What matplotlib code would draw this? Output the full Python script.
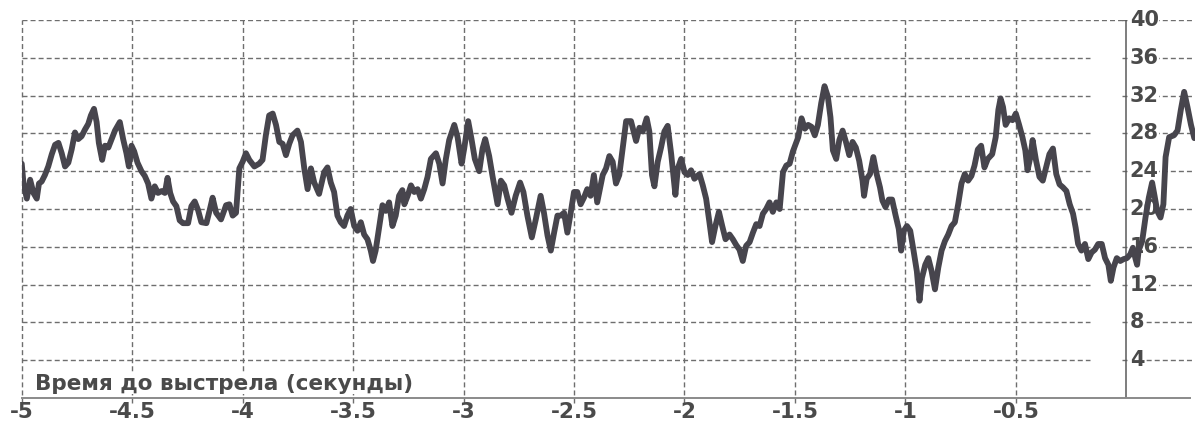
import matplotlib.pyplot as plt

# time before the shot (s) and the recorded signal
time_s = [
    -5.000, -4.992, -4.977, -4.962, -4.947, -4.932, -4.922, -4.910, -4.895, -4.880,
    -4.864, -4.849, -4.834, -4.819, -4.804, -4.789, -4.774, -4.759, -4.744, -4.729,
    -4.714, -4.699, -4.687, -4.673, -4.661, -4.651, -4.636, -4.623, -4.608, -4.593,
    -4.578, -4.556, -4.541, -4.526, -4.515, -4.503, -4.491, -4.476, -4.458, -4.443,
    -4.428, -4.413, -4.398, -4.383, -4.367, -4.352, -4.340, -4.328, -4.315, -4.300,
    -4.285, -4.270, -4.247, -4.232, -4.217, -4.202, -4.187, -4.164, -4.149, -4.136,
    -4.120, -4.098, -4.075, -4.060, -4.045, -4.030, -4.015, -4.000, -3.985, -3.970,
    -3.947, -3.925, -3.910, -3.895, -3.880, -3.864, -3.849, -3.834, -3.819, -3.804,
    -3.789, -3.774, -3.752, -3.736, -3.721, -3.706, -3.691, -3.676, -3.654, -3.631,
    -3.616, -3.601, -3.586, -3.571, -3.556, -3.541, -3.526, -3.511, -3.495, -3.480,
    -3.465, -3.450, -3.435, -3.420, -3.410, -3.398, -3.383, -3.367, -3.352, -3.337,
    -3.322, -3.307, -3.292, -3.277, -3.268, -3.253, -3.238, -3.223, -3.208, -3.193,
    -3.178, -3.163, -3.148, -3.125, -3.110, -3.095, -3.080, -3.065, -3.042, -3.027,
    -3.009, -2.997, -2.979, -2.964, -2.949, -2.929, -2.914, -2.902, -2.884, -2.869,
    -2.846, -2.831, -2.816, -2.801, -2.783, -2.764, -2.744, -2.729, -2.711, -2.691,
    -2.673, -2.651, -2.636, -2.620, -2.605, -2.590, -2.575, -2.560, -2.545, -2.530,
    -2.515, -2.500, -2.485, -2.470, -2.455, -2.440, -2.425, -2.410, -2.395, -2.370,
    -2.355, -2.340, -2.325, -2.310, -2.295, -2.279, -2.264, -2.242, -2.219, -2.204,
    -2.189, -2.171, -2.159, -2.147, -2.136, -2.121, -2.106, -2.091, -2.076, -2.060,
    -2.041, -2.030, -2.015, -2.000, -1.985, -1.970, -1.955, -1.932, -1.917, -1.902,
    -1.887, -1.875, -1.860, -1.844, -1.829, -1.814, -1.796, -1.781, -1.766, -1.751,
    -1.736, -1.721, -1.705, -1.690, -1.675, -1.660, -1.645, -1.630, -1.615, -1.600,
    -1.584, -1.569, -1.554, -1.539, -1.524, -1.509, -1.485, -1.470, -1.455, -1.440,
    -1.425, -1.410, -1.396, -1.381, -1.366, -1.351, -1.339, -1.328, -1.313, -1.299,
    -1.284, -1.269, -1.254, -1.239, -1.224, -1.209, -1.194, -1.187, -1.175, -1.160,
    -1.145, -1.130, -1.115, -1.104, -1.090, -1.075, -1.060, -1.045, -1.030, -1.019,
    -1.007, -0.993, -0.978, -0.963, -0.948, -0.936, -0.925, -0.910, -0.896, -0.881,
    -0.866, -0.851, -0.836, -0.821, -0.806, -0.791, -0.776, -0.761, -0.746, -0.731,
    -0.716, -0.701, -0.687, -0.672, -0.657, -0.642, -0.627, -0.607, -0.591, -0.579,
    -0.569, -0.558, -0.546, -0.530, -0.515, -0.500, -0.485, -0.470, -0.457, -0.447,
    -0.434, -0.424, -0.409, -0.393, -0.378, -0.363, -0.348, -0.332, -0.317, -0.302,
    -0.287, -0.271, -0.256, -0.241, -0.229, -0.218, -0.203, -0.187, -0.172, -0.157,
    -0.142, -0.127, -0.111, -0.096, -0.081, -0.070, -0.058, -0.043, -0.027, -0.012,
    0.003, 0.018, 0.030, 0.041, 0.049, 0.056, 0.072, 0.087, 0.102, 0.117,
    0.128, 0.140, 0.155, 0.168, 0.178, 0.194, 0.216, 0.232, 0.247, 0.262,
    0.277, 0.293, 0.308,
]
signal = [
    24.8, 22.7, 21.1, 23.1, 21.7, 21.1, 22.7, 22.9, 23.6, 24.5,
    25.8, 26.8, 27.0, 25.9, 24.5, 24.9, 26.3, 28.1, 27.4, 27.7,
    28.4, 29.0, 29.9, 30.6, 29.2, 27.0, 25.2, 26.7, 26.5, 27.4,
    28.3, 29.2, 27.4, 25.9, 24.5, 26.7, 26.1, 24.9, 24.0, 23.5,
    22.7, 21.1, 22.4, 21.7, 21.9, 21.7, 23.3, 21.7, 20.8, 20.3,
    18.8, 18.5, 18.5, 20.3, 20.8, 19.9, 18.6, 18.5, 19.9, 21.2,
    19.6, 18.9, 20.4, 20.5, 19.3, 19.6, 24.3, 25.0, 25.9, 25.2,
    24.5, 24.8, 25.2, 27.8, 29.9, 30.1, 28.9, 27.1, 26.9, 25.7,
    26.9, 27.8, 28.3, 27.1, 24.3, 22.1, 24.3, 22.8, 21.6, 23.9,
    24.4, 22.8, 21.8, 19.3, 18.6, 18.2, 19.3, 20.0, 18.2, 17.7,
    18.6, 17.3, 16.8, 15.6, 14.5, 15.6, 17.9, 20.4, 19.8, 20.7,
    18.2, 19.3, 21.4, 22.0, 20.5, 21.4, 22.5, 21.8, 22.1, 21.1,
    22.1, 23.4, 25.3, 25.9, 24.8, 22.7, 25.3, 27.3, 28.9, 27.6,
    24.8, 26.4, 29.3, 27.4, 25.3, 24.0, 26.4, 27.4, 25.6, 23.5,
    20.5, 23.0, 22.5, 21.1, 19.6, 21.4, 22.8, 21.8, 19.3, 17.0,
    18.9, 21.4, 19.6, 17.2, 15.6, 17.5, 19.3, 19.3, 19.6, 17.5,
    19.6, 21.8, 21.8, 20.5, 21.2, 22.1, 21.4, 23.6, 20.7, 23.6,
    24.3, 25.6, 25.0, 22.7, 23.6, 26.5, 29.3, 29.3, 27.2, 28.6,
    28.2, 29.6, 28.2, 23.6, 22.4, 25.0, 26.5, 28.2, 28.8, 25.8,
    21.5, 24.3, 25.3, 23.9, 23.6, 24.1, 23.2, 23.7, 22.5, 21.1,
    18.6, 16.5, 18.2, 19.7, 18.2, 16.8, 17.3, 16.8, 16.2, 15.7,
    14.5, 16.1, 16.5, 17.5, 18.4, 18.2, 19.5, 20.0, 20.7, 19.7,
    20.7, 20.0, 23.9, 24.6, 24.8, 26.1, 27.6, 29.6, 28.5, 28.9,
    28.7, 27.8, 28.9, 31.2, 33.0, 31.9, 29.7, 26.2, 25.3, 27.3,
    28.3, 27.1, 25.7, 27.1, 26.5, 25.1, 23.0, 21.4, 23.2, 23.7,
    25.5, 23.7, 22.3, 20.9, 20.2, 21.0, 21.0, 19.4, 17.9, 15.6,
    17.7, 18.2, 17.7, 15.6, 13.4, 10.3, 12.7, 14.1, 14.8, 13.4,
    11.5, 13.8, 15.6, 16.6, 17.3, 18.2, 18.6, 20.5, 22.7, 23.7,
    23.0, 23.5, 24.6, 26.3, 26.7, 24.4, 25.3, 25.8, 27.6, 30.5,
    31.7, 30.8, 28.9, 29.6, 29.4, 30.1, 28.9, 27.6, 26.2, 24.1,
    25.5, 27.3, 25.2, 23.4, 23.0, 24.4, 25.8, 26.4, 23.7, 22.6,
    22.3, 21.9, 20.5, 19.5, 18.0, 16.3, 15.6, 16.3, 14.7, 15.4,
    15.7, 16.3, 16.3, 14.8, 14.1, 12.4, 13.8, 14.8, 14.5, 14.7,
    14.8, 15.2, 15.9, 14.8, 14.1, 15.6, 16.6, 19.1, 21.2, 22.8,
    21.4, 19.8, 19.1, 20.5, 25.5, 27.6, 27.8, 28.3, 30.5, 32.4,
    30.8, 28.9, 27.5,
]

x_ticks = [-5, -4.5, -4, -3.5, -3, -2.5, -2, -1.5, -1, -0.5]
x_labels = ["-5", "-4.5", "-4", "-3.5", "-3", "-2.5", "-2", "-1.5", "-1", "-0.5"]
y_ticks = [4, 8, 12, 16, 20, 24, 28, 32, 36, 40]
x_title = "Время до выстрела (секунды)"

XMIN, XMAX = -5, 0.31
GRID = "#6e6e6e"
TEXT = "#4a4a4a"
LINE = "#47454d"
DASH = (0, (3.6, 2.2))

fig = plt.figure(figsize=(12.01, 4.24), dpi=100)
ax = fig.add_axes([0.0181, 0.0613, 0.9767, 0.8915])
ax.set_xlim(XMIN, XMAX)
ax.set_ylim(0, 40)
for s in ax.spines.values():
    s.set_visible(False)

# horizontal grid: broken just before the value axis, resumed behind the labels
for y in y_ticks:
    stop = 0 if y == 40 else -0.163
    ax.plot([XMIN, stop], [y, y], color=GRID, lw=1, linestyle=DASH, zorder=1)
    ax.plot([-0.02, XMAX], [y, y], color=GRID, lw=1, linestyle=DASH, zorder=1)
    ax.text(0.016, y, str(y), ha="left", va="center", fontsize=15,
            fontweight="bold", color=TEXT, zorder=3,
            bbox=dict(facecolor="white", edgecolor="none", pad=0.5))

# vertical grid
for x in x_ticks:
    ax.plot([x, x], [-0.5, 40], color=GRID, lw=1, linestyle=DASH, zorder=1,
            clip_on=False)

# value axis at t = 0 and time axis at the bottom
ax.plot([0, 0], [0, 40], color="#5a5a5a", lw=1.1, zorder=2)
ax.plot([XMIN, XMAX - 0.02], [0, 0], color="#8a8a8a", lw=1.4, zorder=2,
        clip_on=False)

ax.plot(time_s, signal, color=LINE, lw=4.2, solid_joinstyle="round",
        solid_capstyle="round", zorder=4)

ax.set_xticks(x_ticks)
ax.set_xticklabels(x_labels, fontsize=15.5, fontweight="bold", color=TEXT)
ax.tick_params(axis="x", length=0, pad=3)
ax.set_yticks([])

ax.text(-4.94, 0.9, x_title, ha="left", va="baseline", fontsize=15.5,
        fontweight="bold", color=TEXT, zorder=3,
        bbox=dict(facecolor="white", edgecolor="none", pad=0.3))

fig.savefig("out.png", dpi=100, facecolor="white")
